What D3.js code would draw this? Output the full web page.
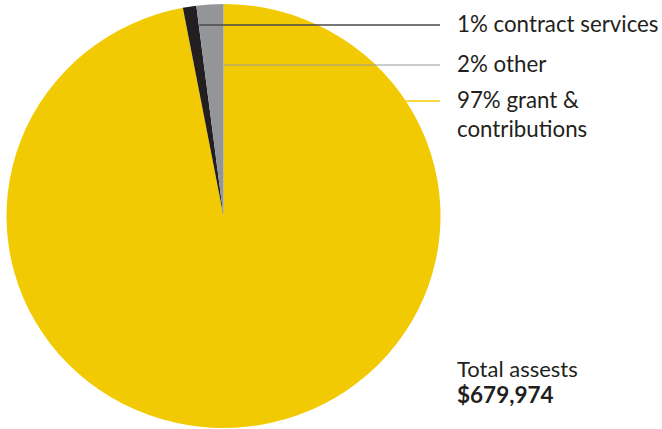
<!DOCTYPE html>
<html>
<head>
<meta charset="utf-8">
<script src="https://cdnjs.cloudflare.com/ajax/libs/d3/7.8.5/d3.min.js"></script>
<style>
  body { margin: 0; background: #fff; }
  text { font-family: "Lato", "Open Sans", sans-serif; fill: #231f20; }
</style>
</head>
<body>
<div id="content"></div>
<script>
// chart data
var categories = ["grant & contributions", "contract services", "other"];
var values = [97, 1, 2];
var labels = [["97% grant &", "contributions"], ["1% contract services"], ["2% other"]];
var colors = ["#f2ca03", "#231f20", "#939598"];
var lineColors = ["#f2ca03", "#4a4a4a", "#9a9a9a"];
var totalLabel = "Total assests";
var totalValue = "$679,974";

var width = 662, height = 429;
var cx = 223.5, cy = 216, rx = 217, ry = 212;

var svg = d3.select("#content").append("svg")
    .attr("width", width)
    .attr("height", height);

var pie = d3.pie().sort(null).value(function(d) { return d; });
var arcs = pie(values);
var arc = d3.arc().innerRadius(0).outerRadius(rx);

// pie is slightly squashed vertically, like the original
var g_pie = svg.append("g")
    .attr("transform", "translate(" + cx + "," + cy + ") scale(1," + (ry / rx) + ")");

g_pie.selectAll("path")
    .data(arcs)
  .enter().append("path")
    .attr("d", arc)
    .attr("fill", function(d, i) { return colors[i]; });

// leader lines + labels
var lineY = [101, 25, 65];
var lineEnd = 440, textX = 457;

arcs.forEach(function(d, i) {
  var y = lineY[i], x0;
  if (i === 0) {
    // starts at the pie rim
    var t = (y - cy) / ry;
    x0 = cx + rx * Math.sqrt(1 - t * t);
  } else {
    // starts on the slice's closing edge
    x0 = cx + (cy - y) * Math.tan(d.endAngle);
  }
  svg.append("line")
      .attr("x1", x0)
      .attr("y1", y)
      .attr("x2", lineEnd)
      .attr("y2", y)
      .attr("stroke", lineColors[i])
      .attr("stroke-width", i === 2 ? 1.2 : 1.5);

  var txt = svg.append("text")
      .attr("x", textX)
      .attr("y", y + 7)
      .style("font-size", "22.3px");
  labels[i].forEach(function(s, j) {
    txt.append("tspan")
        .attr("x", textX)
        .attr("dy", j === 0 ? 0 : 29)
        .text(s);
  });
});

// total
svg.append("text")
    .attr("x", textX)
    .attr("y", 377)
    .style("font-size", "22px")
    .text(totalLabel);

svg.append("text")
    .attr("x", textX)
    .attr("y", 403)
    .style("font-size", "22.5px")
    .style("font-weight", "bold")
    .text(totalValue);
</script>
</body>
</html>
